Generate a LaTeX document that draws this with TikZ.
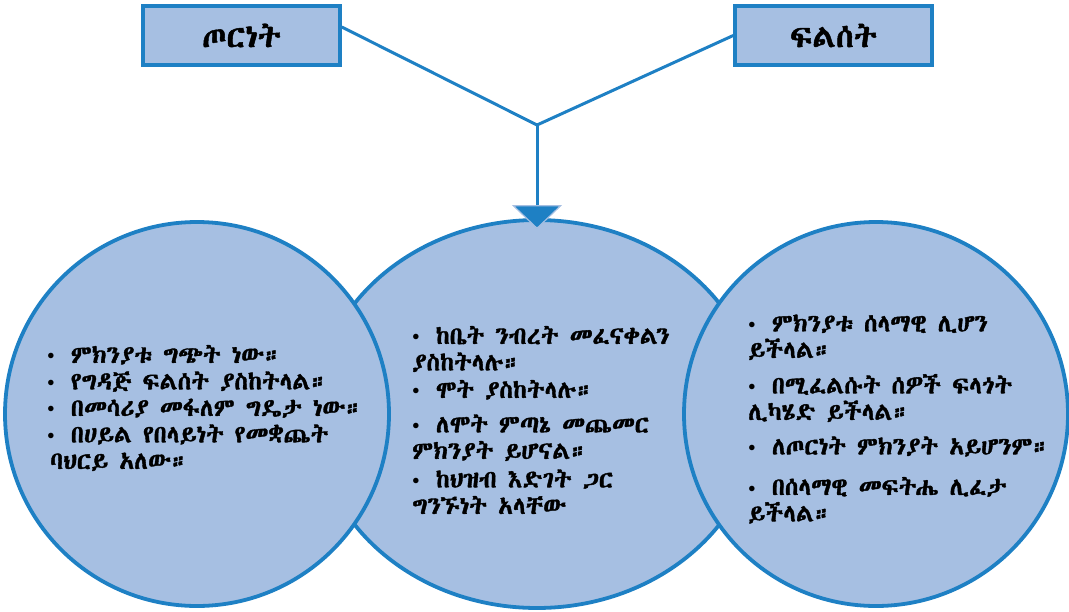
\documentclass[tikz,border=0pt]{standalone}
\usepackage{fontspec}
\usetikzlibrary{arrows.meta,shapes.geometric}
\newfontfamily\ethfont[Script=Ethiopic,FakeBold=1.5]{Abyssinica SIL}
\definecolor{boxfill}{RGB}{166,191,226}
\definecolor{edgeblue}{RGB}{30,128,196}
\newcommand{\itm}[1]{{\rmfamily\textbullet}\ #1}

\begin{document}
\begin{tikzpicture}[x=1pt,y=-1pt,
    headbox/.style={draw=edgeblue,fill=boxfill,line width=3.5pt,minimum width=197pt,
      minimum height=59pt,font=\ethfont\fontsize{32}{36}\selectfont},
    blob/.style={circle,draw=edgeblue,fill=boxfill,line width=3.8pt,minimum size=384pt},
    conn/.style={edgeblue,line width=3pt},
    blurb/.style={anchor=west,align=left,inner sep=0pt,
      font=\ethfont\fontsize{24.5}{26.5}\selectfont}]
    \useasboundingbox (0,0) rectangle (1069,611);
    \node[headbox] (war) at (241.5,35.5) {ጦርነት};
    \node[headbox] (mig) at (833.5,35.5) {ፍልሰት};
    \coordinate (junc) at (537,125);
    \draw[conn] ([yshift=8.5pt]war.east) -- (junc);
    \draw[conn] (mig.west) -- (junc);
    \node[blob,ellipse,minimum width=444pt,minimum height=388pt] (mid) at (537,414) {};
    \node[blob] (lft) at (197,414) {};
    \node[blob] (rgt) at (876,414) {};
    \draw[conn,-{Triangle[width=50pt,length=24pt,fill=edgeblue,color=boxfill,line width=1.2pt]}]
      (junc) -- ([yshift=-11pt]mid.north);
    \node[blurb] (lfttxt) at (42,408) {\itm{ምክንያቱ ግጭት ነው።}\\
      \itm{የግዳጅ ፍልሰት ያስከትላል።}\\
      \itm{በመሳሪያ መፋለም ግዴታ ነው።}\\
      \itm{በሀይል የበላይነት የመቋጨት}\\
      \hspace*{8pt}ባህርይ አለው።};
    \node[blurb] (midtxt) at (407,420) {\itm{ከቤት ንብረት መፈናቀልን}\\
      \hspace*{5pt}ያስከትላሉ።\\[1pt]
      \itm{ሞት ያስከትላሉ።}\\[8pt]
      \itm{ለሞት ምጣኔ መጨመር}\\
      \hspace*{5pt}ምክንያት ይሆናል።\\[2pt]
      \itm{ከህዝብ እድገት ጋር}\\
      \hspace*{5pt}ግንኙነት አላቸው};
    \node[blurb] (rgttxt) at (743,419) {\itm{ምክንያቱ ሰላማዊ ሊሆን}\\
      \hspace*{5pt}ይችላል።\\[9pt]
      \itm{በሚፈልሱት ሰዎች ፍላጎት}\\
      \hspace*{5pt}ሊካሄድ ይችላል።\\[8pt]
      \itm{ለጦርነት ምክንያት አይሆንም።}\\[14pt]
      \itm{በሰላማዊ መፍትሔ ሊፈታ}\\
      \hspace*{5pt}ይችላል።};
\end{tikzpicture}
\end{document}
